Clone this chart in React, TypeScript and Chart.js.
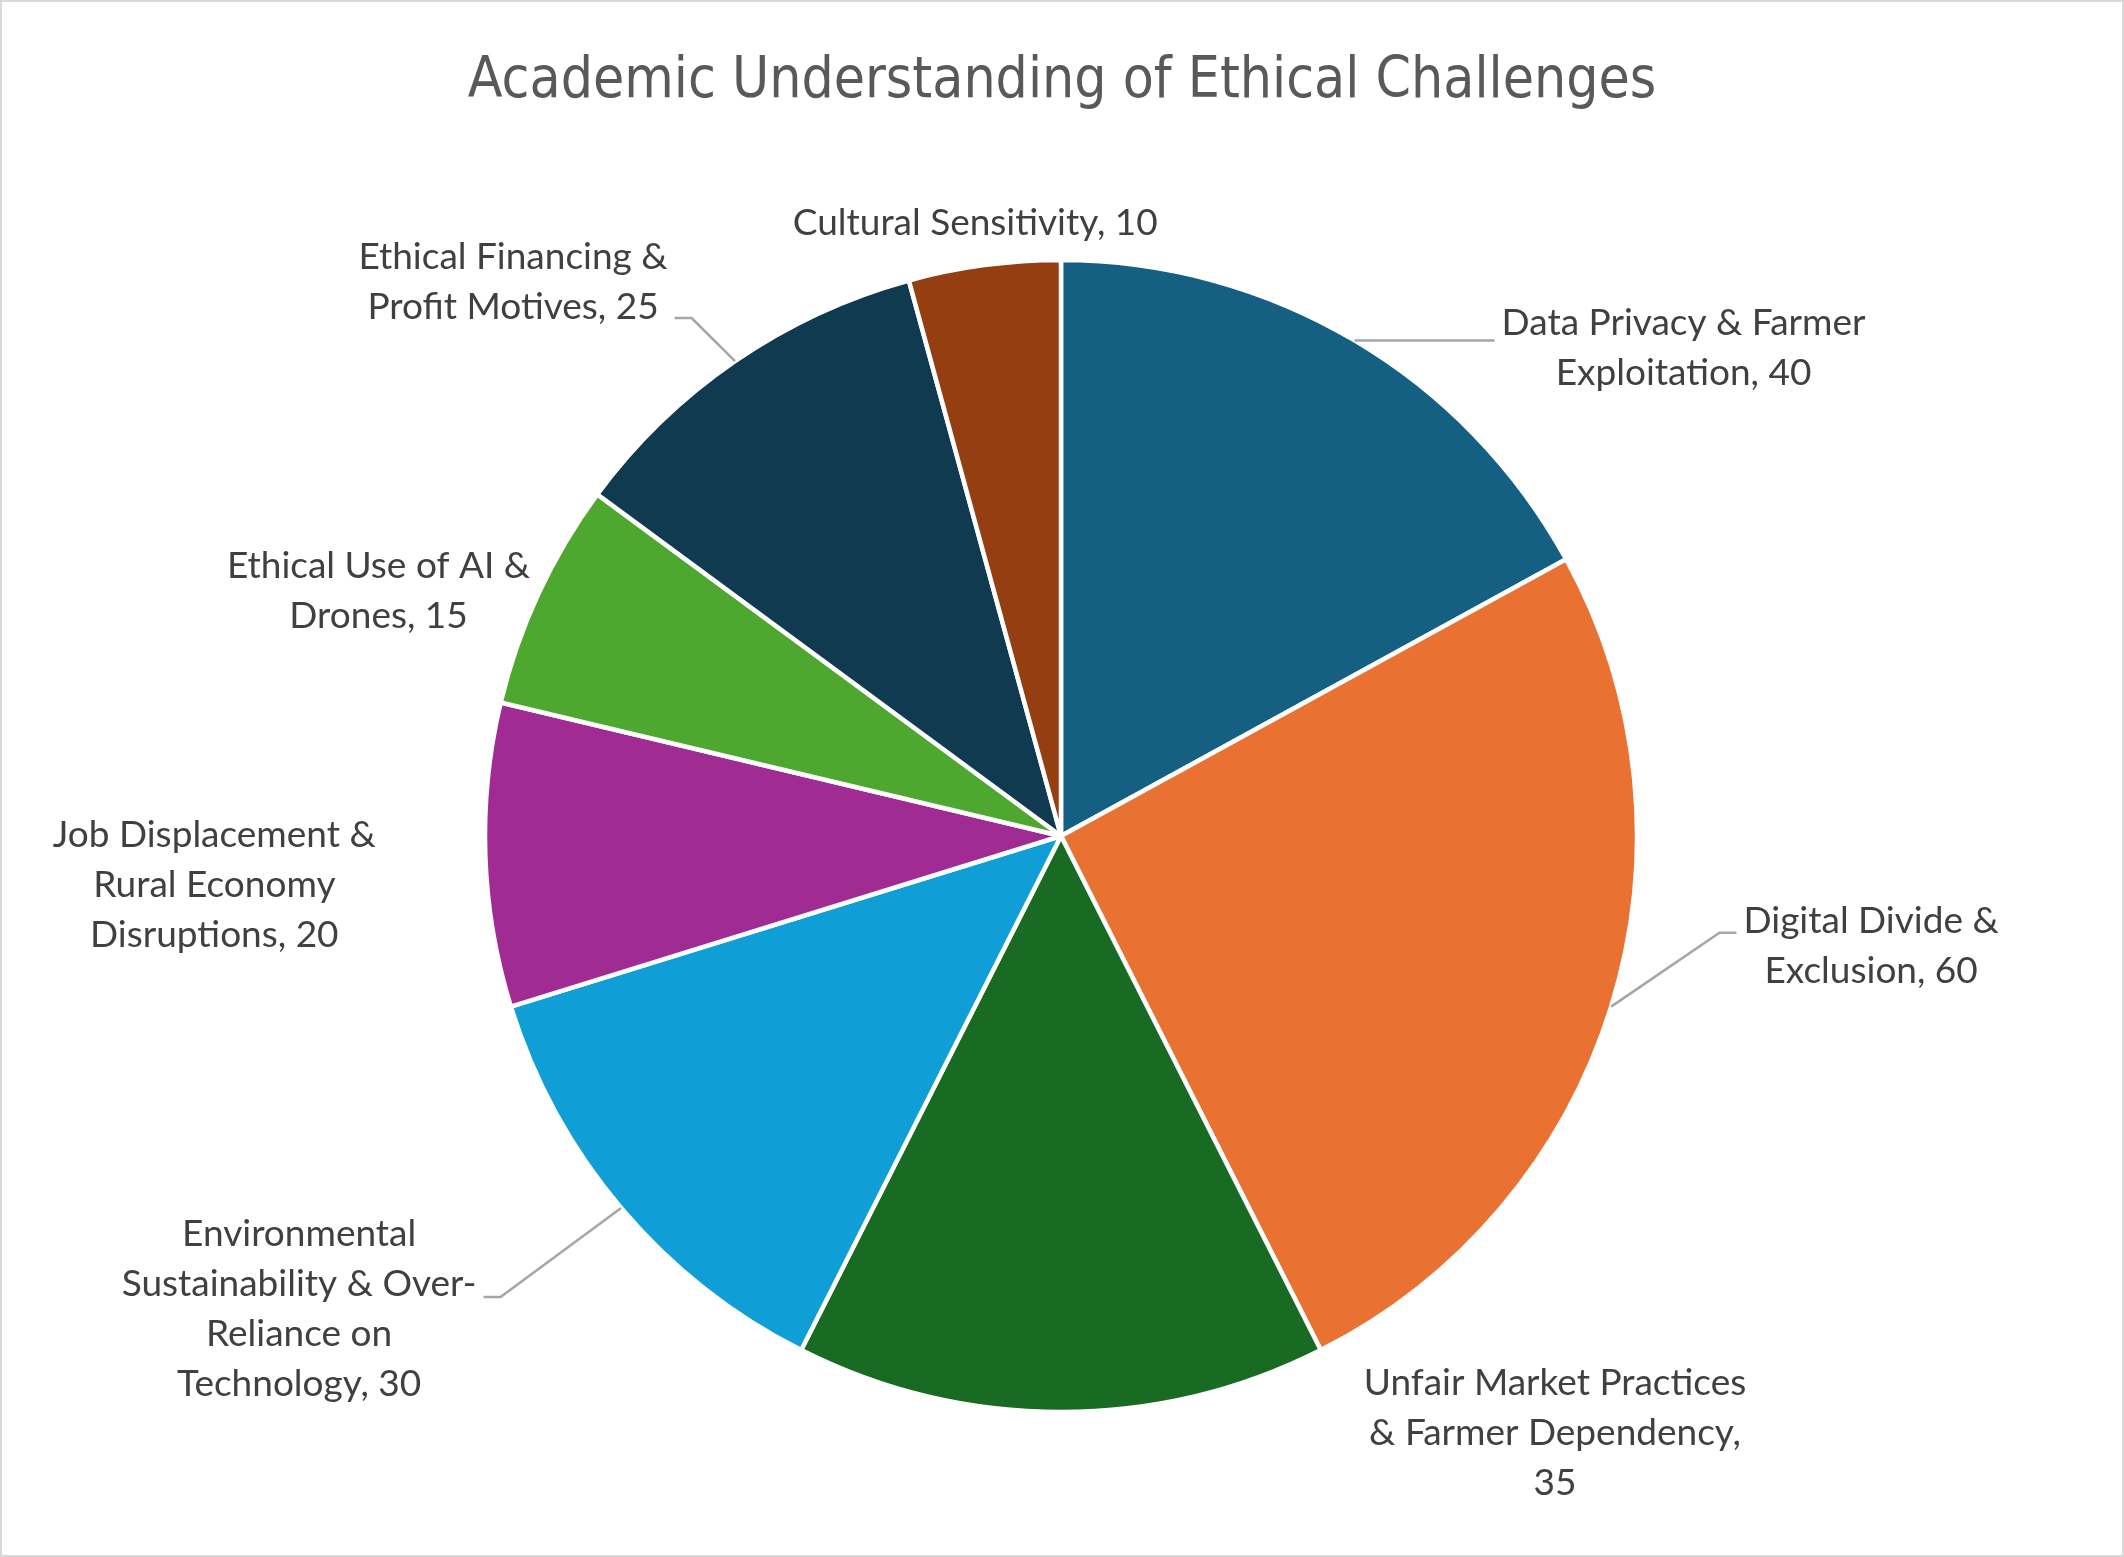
import React, { useEffect, useRef } from "react";
import { Chart, registerables } from "chart.js";

Chart.register(...registerables);

const chartTitle = "Academic Understanding of Ethical Challenges";

const categories = [
  "Data Privacy & Farmer Exploitation",
  "Digital Divide & Exclusion",
  "Unfair Market Practices & Farmer Dependency",
  "Environmental Sustainability & Over-Reliance on Technology",
  "Job Displacement & Rural Economy Disruptions",
  "Ethical Use of AI & Drones",
  "Ethical Financing & Profit Motives",
  "Cultural Sensitivity",
];

const values = [40, 60, 35, 30, 20, 15, 25, 10];

const sliceColors = [
  "#156082",
  "#E97132",
  "#196B24",
  "#0F9ED5",
  "#A02B93",
  "#4EA72E",
  "#0F3A50",
  "#953E12",
];

// wrapped label text, "{v}" is replaced by the value
const labelLines = [
  ["Data Privacy & Farmer", "Exploitation, {v}"],
  ["Digital Divide &", "Exclusion, {v}"],
  ["Unfair Market Practices", "& Farmer Dependency,", "{v}"],
  ["Environmental", "Sustainability & Over-", "Reliance on", "Technology, {v}"],
  ["Job Displacement &", "Rural Economy", "Disruptions, {v}"],
  ["Ethical Use of AI &", "Drones, {v}"],
  ["Ethical Financing &", "Profit Motives, {v}"],
  ["Cultural Sensitivity, {v}"],
];

// layout: label centre offset from the slice's outer edge at its mid-angle
const labelOffsets = [
  [329, 8],
  [260, -61],
  [494, 21],
  [-322, 101],
  [-271, 30],
  [-160, -2],
  [-222, -79],
  [-9, -42],
];
// which labels get a leader line, and vertical attach offset from label centre
const leaderAttach: (number | null)[] = [-8, -13, null, -12, null, null, 36, null];

const LABEL_FONT = '37px "Lato", "Open Sans", sans-serif';
const LINE_H = 50;

const labelPlugin = {
  id: "excelLabels",
  afterDraw(chart: any) {
    const ctx = chart.ctx;
    const meta = chart.getDatasetMeta(0);
    ctx.save();
    // border
    ctx.strokeStyle = "#D9D9D9";
    ctx.lineWidth = 2;
    ctx.strokeRect(1, 1, chart.width - 2, chart.height - 2);
    // title
    ctx.fillStyle = "#595959";
    ctx.font = '56.5px "Liberation Sans Narrow", "DejaVu Sans Condensed", "Roboto", sans-serif';
    ctx.textAlign = "center";
    ctx.textBaseline = "middle";
    ctx.fillText(chartTitle, chart.width / 2, 82);

    ctx.font = LABEL_FONT;
    meta.data.forEach((arc: any, i: number) => {
      const { x, y, startAngle, endAngle, outerRadius } = arc.getProps(
        ["x", "y", "startAngle", "endAngle", "outerRadius"],
        true
      );
      const mid = (startAngle + endAngle) / 2;
      const ex = x + Math.cos(mid) * outerRadius;
      const ey = y + Math.sin(mid) * outerRadius;
      const cx = ex + labelOffsets[i][0];
      const cy = ey + labelOffsets[i][1];
      const lines = labelLines[i].map((l) => l.replace("{v}", String(values[i])));
      const maxW = Math.max(...lines.map((l) => ctx.measureText(l).width));
      const top = cy - (lines.length * LINE_H) / 2;
      ctx.fillStyle = "#404040";
      ctx.textAlign = "center";
      ctx.textBaseline = "middle";
      lines.forEach((l, k) => ctx.fillText(l, cx, top + LINE_H * (k + 0.5)));
      const att = leaderAttach[i];
      if (att !== null) {
        const right = cx > ex;
        const ax = right ? cx - maxW / 2 - 7 : cx + maxW / 2 + 7;
        const ay = cy + att;
        const bx = right ? ax - 17 : ax + 17;
        ctx.strokeStyle = "#A6A6A6";
        ctx.lineWidth = 2.5;
        ctx.beginPath();
        ctx.moveTo(ex, ey);
        ctx.lineTo(bx, ay);
        ctx.lineTo(ax, ay);
        ctx.stroke();
      }
    });
    ctx.restore();
  },
};

export default function App() {
  const ref = useRef<HTMLCanvasElement>(null);
  useEffect(() => {
    document.body.style.margin = "0";
    const chart = new Chart(ref.current!, {
      type: "pie",
      data: {
        labels: categories,
        datasets: [
          {
            data: values,
            backgroundColor: sliceColors,
            borderColor: "#FFFFFF",
            borderWidth: 4.5,
            radius: 576,
          } as any,
        ],
      },
      options: {
        responsive: false,
        animation: false,
        layout: { padding: { left: 0, right: 2, top: 200, bottom: 85 } },
        plugins: {
          legend: { display: false },
          title: { display: false },
          tooltip: { enabled: false },
        },
      },
      plugins: [
        {
          id: "bg",
          beforeDraw(c: any) {
            c.ctx.save();
            c.ctx.fillStyle = "#FFFFFF";
            c.ctx.fillRect(0, 0, c.width, c.height);
            c.ctx.restore();
          },
        },
        labelPlugin,
      ],
    });
    return () => chart.destroy();
  }, []);
  return (
    <div style={{ width: 2124, height: 1557 }}>
      <canvas ref={ref} width={2124} height={1557} style={{ display: "block" }} />
    </div>
  );
}
